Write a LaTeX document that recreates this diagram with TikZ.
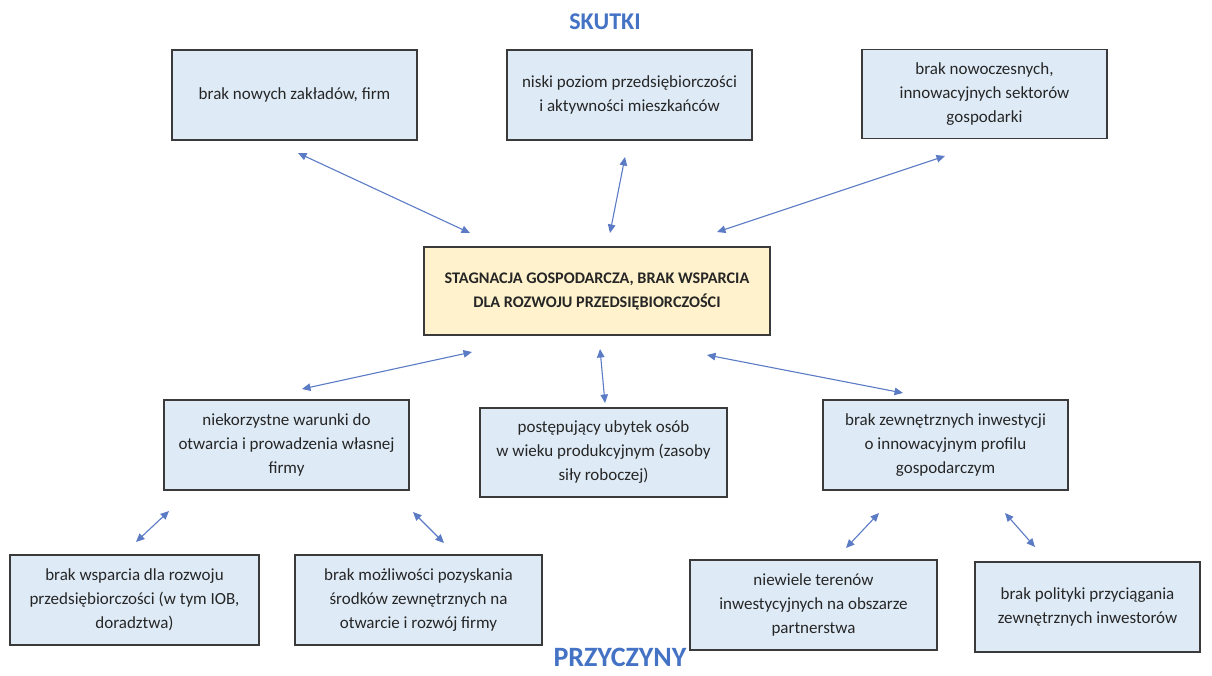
\documentclass[tikz,border=0pt]{standalone}
\usepackage{fontspec}
\setmainfont{Carlito}
\usetikzlibrary{arrows.meta}
\definecolor{boxblue}{HTML}{DEEBF7}
\definecolor{boxyel}{HTML}{FFF2CC}
\definecolor{edge}{HTML}{3A3A3A}
\definecolor{arr}{HTML}{5B7BC4}
\definecolor{ttl}{HTML}{4472C4}
\tikzset{
  box/.style={draw=edge, line width=1.3pt, fill=boxblue, inner sep=2pt, align=center,
    font=\fontsize{17}{24}\selectfont, text=black!85},
  core/.style={box, fill=boxyel, font=\bfseries\fontsize{16.2}{24}\selectfont},
  link/.style={arr, line width=1.1pt, {Triangle[length=8.5pt,width=7.5pt]}-{Triangle[length=8.5pt,width=7.5pt]}},
  title/.style={text=ttl, font=\bfseries\fontsize{24}{28}\selectfont, inner sep=0pt}
}
\begin{document}
\begin{tikzpicture}[x=1pt,y=-1pt]
\useasboundingbox (0,0) rectangle (1212,675);
\node[title] (sk) at (605,22) {SKUTKI};
\node[title, font=\bfseries\fontsize{28}{32}\selectfont] (pr) at (620,657) {PRZYCZYNY};

\node[box, minimum width=245pt, minimum height=90pt] (b1) at (294.5,95) {brak nowych zakładów, firm};
\node[box, minimum width=245pt, minimum height=90pt] (b2) at (629.5,95) {niski poziom przedsiębiorczości\\i aktywności mieszkańców};
\node[box, minimum width=245pt, minimum height=89pt] (b3) at (984.5,94) {brak nowoczesnych,\\innowacyjnych sektorów\\gospodarki};

\node[core, minimum width=346pt, minimum height=88pt] (c) at (597,291) {STAGNACJA GOSPODARCZA, BRAK WSPARCIA\\DLA ROZWOJU PRZEDSIĘBIORCZOŚCI};

\node[box, minimum width=245pt, minimum height=90pt] (n1) at (286.5,445) {niekorzystne warunki do\\otwarcia i prowadzenia własnej\\firmy};
\node[box, minimum width=247pt, minimum height=89pt] (n2) at (603.5,452.5) {postępujący ubytek osób\\w wieku produkcyjnym (zasoby\\siły roboczej)};
\node[box, minimum width=245pt, minimum height=90pt] (n3) at (945.5,445) {brak zewnętrznych inwestycji\\o innowacyjnym profilu\\gospodarczym};

\node[box, minimum width=249pt, minimum height=90pt] (m1) at (134.5,600) {brak wsparcia dla rozwoju\\przedsiębiorczości (w tym IOB,\\doradztwa)};
\node[box, minimum width=247pt, minimum height=90pt] (m2) at (418.5,600) {brak możliwości pozyskania\\środków zewnętrznych na\\otwarcie i rozwój firmy};
\node[box, minimum width=247pt, minimum height=90pt] (m3) at (813.5,605) {niewiele terenów\\inwestycyjnych na obszarze\\partnerstwa};
\node[box, minimum width=225pt, minimum height=90pt] (m4) at (1087.5,607) {brak polityki przyciągania\\zewnętrznych inwestorów};

% connector end points
\coordinate (b1e) at (298,153);  \coordinate (cb1) at (470,233);
\coordinate (b2e) at (625,157);  \coordinate (cb2) at (610,233);
\coordinate (b3e) at (945,156);  \coordinate (cb3) at (717,232);
\coordinate (cn1) at (472,352);  \coordinate (n1e) at (302,389);
\coordinate (cn2) at (600,349);  \coordinate (n2e) at (605,403);
\coordinate (cn3) at (707,355);  \coordinate (n3e) at (903,393);
\coordinate (n1a) at (169,511);  \coordinate (m1e) at (136,542);
\coordinate (n1b) at (413,512);  \coordinate (m2e) at (444,543);
\coordinate (n3a) at (879,513);  \coordinate (m3e) at (846,548);
\coordinate (n3b) at (1005,513); \coordinate (m4e) at (1035,547);

\draw[link] (b1e) -- (cb1);
\draw[link] (b2e) -- (cb2);
\draw[link] (b3e) -- (cb3);
\draw[link] (cn1) -- (n1e);
\draw[link] (cn2) -- (n2e);
\draw[link] (cn3) -- (n3e);
\draw[link] (n1a) -- (m1e);
\draw[link] (n1b) -- (m2e);
\draw[link] (n3a) -- (m3e);
\draw[link] (n3b) -- (m4e);
\end{tikzpicture}
\end{document}
